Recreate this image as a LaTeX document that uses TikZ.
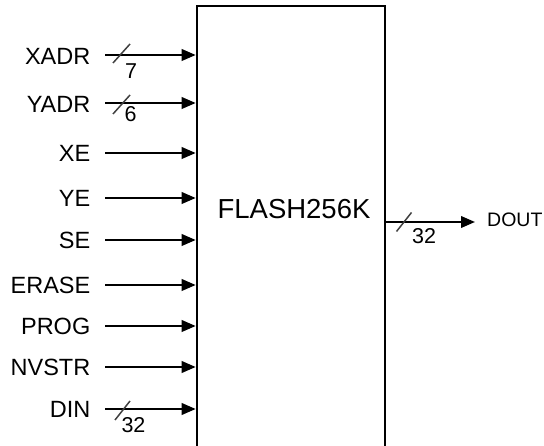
\documentclass[tikz,border=0pt]{standalone}
\usepackage{fontspec}
\setmainfont{Liberation Sans}
\usetikzlibrary{arrows.meta}
\begin{document}
\begin{tikzpicture}[x=1pt,y=-1pt,
  sig/.style={line width=2.2pt,-{Triangle[length=14pt,width=11.5pt]}},
  slashln/.style={line width=1.5pt,draw=black!75},
  lbl/.style={anchor=east,inner sep=0pt,font=\fontsize{23.5}{23.5}\selectfont},
  num/.style={inner sep=0pt,font=\fontsize{21.5}{21.5}\selectfont},
  blockbox/.style={draw,line width=2.6pt,minimum width=188pt,minimum height=450pt,inner sep=0pt}]
\clip (0,0) rectangle (544,446);
\useasboundingbox (0,0) rectangle (544,446);
\node[blockbox] (box) at (291,231) {};
\node[inner sep=0pt,font=\fontsize{27.5}{27.5}\selectfont] (title) at (294,209) {FLASH256K};
% input labels
\node[lbl] (xadr) at (90.5,56) {XADR};
\node[lbl] (yadr) at (90.5,104) {YADR};
\node[lbl] (xe) at (90.5,153) {XE};
\node[lbl] (ye) at (90.5,198) {YE};
\node[lbl] (se) at (90.5,240) {SE};
\node[lbl] (erase) at (90.5,285) {ERASE};
\node[lbl] (prog) at (90.5,326) {PROG};
\node[lbl] (nvstr) at (90.5,367) {NVSTR};
\node[lbl] (din) at (90.5,409) {DIN};
% input arrows
\foreach \n/\y in {xadr/55,yadr/103,xe/153,ye/198,se/240,erase/285,prog/326,nvstr/367,din/409}{
  \coordinate (\n-s) at (105,\y);
  \draw[sig] (\n-s) -- (\n-s -| box.west);
}
% bus slashes
\coordinate (s1) at (121.5,54);
\coordinate (s2) at (121.5,104);
\coordinate (s3) at (122.5,410);
\draw[slashln] ([shift={(-8.5,9)}]s1) -- ([shift={(8.5,-10)}]s1);
\draw[slashln] ([shift={(-8.5,10)}]s2) -- ([shift={(8.5,-9)}]s2);
\draw[slashln] ([shift={(-7.5,10)}]s3) -- ([shift={(7.5,-9)}]s3);
\node[num] (n1) at (131,71) {7};
\node[num] (n2) at (130.5,114) {6};
\node[num] (n3) at (133.5,425.5) {32};
% output
\coordinate (dout-s) at (box.east |- 0,222);
\coordinate (dout-e) at (475,222);
\draw[sig] (dout-s) -- (dout-e);
\coordinate (s4) at (404,222);
\draw[slashln] ([shift={(-7.5,9.5)}]s4) -- ([shift={(7.5,-9.5)}]s4);
\node[num] (n4) at (424,236) {32};
\node[anchor=west,inner sep=0pt,font=\fontsize{19.5}{19.5}\selectfont] (dout) at (487,220) {DOUT};
\end{tikzpicture}
\end{document}
